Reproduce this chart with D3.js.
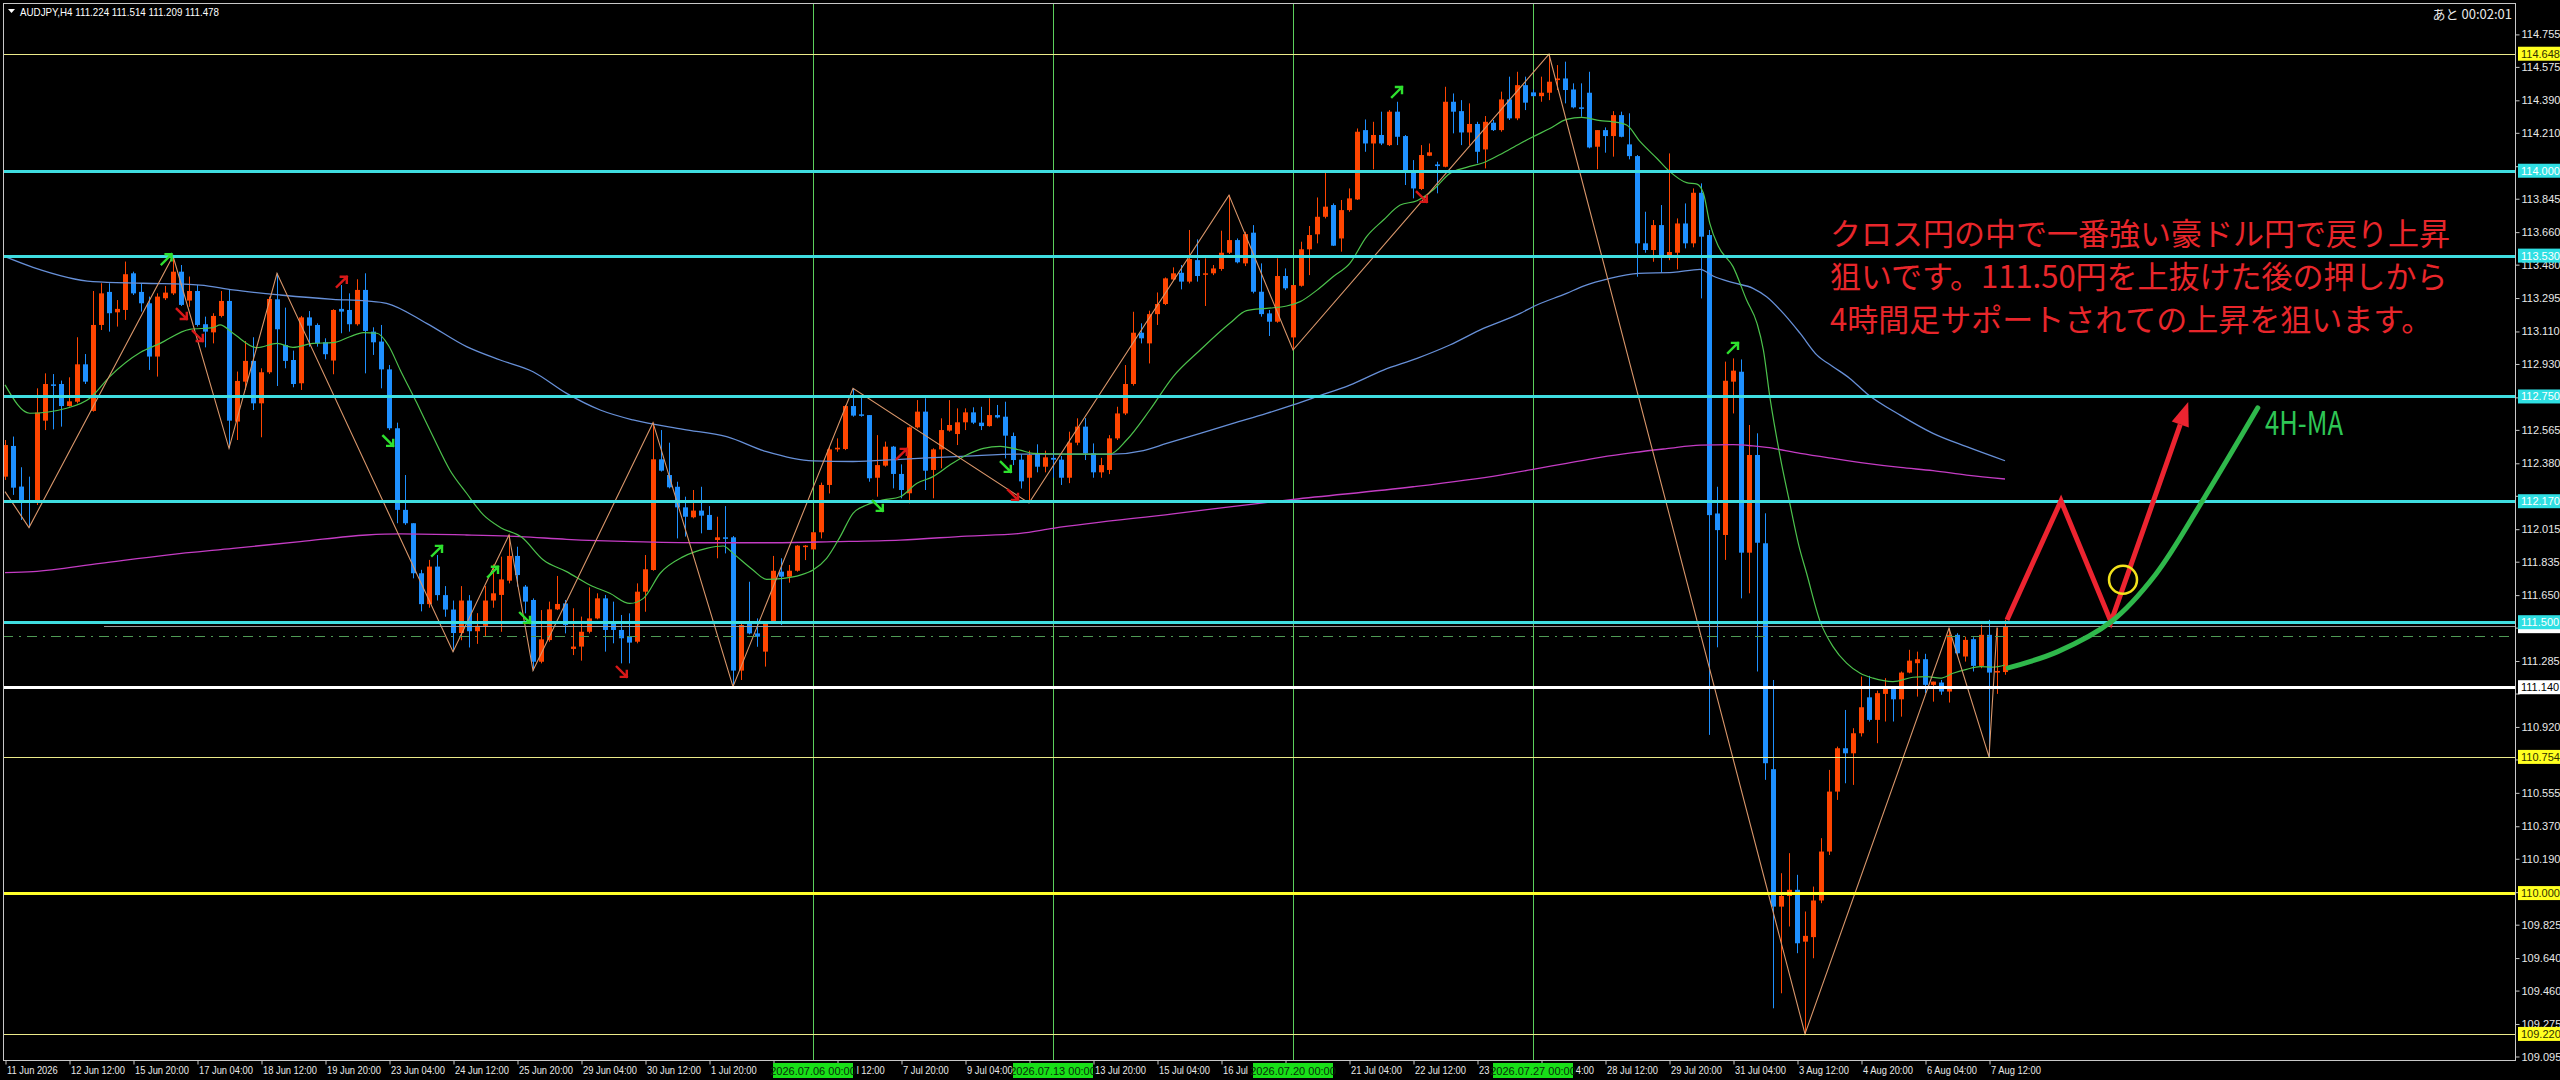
<!DOCTYPE html>
<html>
<head>
<meta charset="utf-8">
<script src="https://cdn.jsdelivr.net/npm/d3@7"></script>
<style>
  html, body { margin: 0; padding: 0; background: #000; }
  svg { display: block; }
</style>
</head>
<body>
<div id="chart"></div>
<script>
// AUDJPY H4 bars, 11 Jun 04:00 .. 7 Aug 20:00 (index 0..250)
var opens = [
  112.306,112.476,112.251,112.173,112.162,112.616,112.817,112.819,112.697,112.721,
  112.928,112.670,113.146,113.329,113.216,113.229,113.432,113.329,113.266,112.971,
  113.294,113.321,113.441,113.281,113.334,113.150,113.105,113.196,113.279,112.611,
  112.832,112.947,112.712,112.884,113.288,113.035,112.952,112.823,113.188,113.146,
  113.050,112.949,113.235,113.229,113.150,113.340,113.109,113.054,112.900,112.574,
  112.122,112.048,111.771,111.600,111.808,111.650,111.570,111.440,111.620,111.450,
  111.480,111.620,111.651,111.730,111.867,111.697,111.623,111.281,111.401,111.571,
  111.604,111.352,111.365,111.447,111.521,111.632,111.503,111.457,111.420,111.392,
  111.669,111.789,112.402,112.315,112.250,112.136,112.081,112.118,112.094,111.955,
  111.970,111.970,111.232,111.490,111.438,111.337,111.503,111.780,111.752,111.785,
  111.918,111.903,111.998,112.260,112.457,112.459,112.697,112.651,112.647,112.300,
  112.367,112.472,112.321,112.214,112.579,112.666,112.343,112.457,112.561,112.542,
  112.607,112.662,112.605,112.586,112.647,112.638,112.531,112.400,112.300,112.435,
  112.361,112.410,112.400,112.300,112.494,112.583,112.435,112.330,112.343,112.518,
  112.656,112.819,113.103,113.044,113.206,113.262,113.398,113.435,113.386,113.505,
  113.428,113.432,113.456,113.546,113.616,113.487,113.657,113.330,113.210,113.164,
  113.417,113.077,113.363,113.565,113.648,113.745,113.810,113.625,113.782,113.841,
  114.225,114.151,114.198,114.142,114.327,114.192,114.004,113.899,114.083,114.035,
  114.022,114.382,114.330,114.212,114.259,114.118,114.266,114.225,114.395,114.290,
  114.474,114.434,114.413,114.432,114.502,114.511,114.450,114.351,114.432,114.133,
  114.225,114.192,114.308,114.146,114.081,113.598,113.561,113.699,113.528,113.546,
  113.708,113.598,113.878,113.644,112.102,111.983,112.832,112.887,111.885,112.426,
  111.937,110.686,109.925,109.984,110.018,109.731,109.756,109.959,110.230,110.562,
  110.802,110.774,110.885,111.084,110.959,111.103,111.134,111.073,111.221,111.273,
  111.295,111.153,111.166,111.116,111.430,111.310,111.406,111.258,111.430,111.221,
  111.224
];
var highs = [
  112.509,112.528,112.358,112.306,112.795,112.878,112.874,112.838,112.856,113.078,
  112.985,113.334,113.377,113.377,113.284,113.497,113.441,113.377,113.303,113.321,
  113.362,113.528,113.478,113.414,113.367,113.192,113.211,113.334,113.340,112.888,
  113.057,113.078,112.906,113.303,113.432,113.242,113.004,113.196,113.223,113.155,
  113.072,113.233,113.367,113.321,113.399,113.432,113.133,113.146,112.924,112.605,
  112.315,112.048,111.790,111.845,111.872,111.700,111.620,111.700,111.650,111.550,
  111.700,111.820,111.863,111.983,111.918,111.706,111.632,111.567,111.614,111.756,
  111.623,111.577,111.531,111.693,111.660,111.651,111.614,111.540,111.549,111.715,
  111.872,112.605,112.564,112.494,112.278,112.195,112.232,112.250,112.143,112.084,
  112.143,111.977,111.503,111.724,111.521,111.503,111.867,111.854,111.817,111.927,
  111.927,112.001,112.273,112.472,112.518,112.703,112.795,112.758,112.647,112.536,
  112.500,112.476,112.374,112.583,112.730,112.740,112.463,112.629,112.730,112.684,
  112.684,112.690,112.693,112.740,112.703,112.721,112.550,112.430,112.450,112.485,
  112.450,112.440,112.420,112.555,112.629,112.630,112.490,112.410,112.536,112.693,
  112.924,113.219,113.155,113.225,113.326,113.409,113.465,113.478,113.672,113.620,
  113.515,113.478,113.668,113.865,113.625,113.662,113.699,113.487,113.229,113.515,
  113.459,113.367,113.607,113.694,113.852,113.995,113.819,113.838,113.902,114.234,
  114.284,114.271,114.327,114.336,114.382,114.198,114.059,114.142,114.151,114.050,
  114.465,114.428,114.391,114.373,114.271,114.303,114.281,114.438,114.521,114.548,
  114.521,114.450,114.521,114.645,114.585,114.604,114.484,114.484,114.548,114.225,
  114.240,114.330,114.327,114.318,114.087,113.773,113.727,113.810,114.096,113.736,
  113.819,113.902,113.930,113.672,112.250,112.943,112.961,112.955,112.592,112.546,
  112.103,111.180,110.110,110.221,110.101,109.898,110.036,110.304,110.682,110.811,
  111.014,110.913,111.199,111.203,111.121,111.190,111.143,111.227,111.347,111.337,
  111.325,111.171,111.180,111.466,111.439,111.420,111.417,111.485,111.513,111.470,
  111.514
];
var lows = [
  112.288,112.205,112.066,112.024,112.149,112.564,112.568,112.583,112.694,112.712,
  112.819,112.666,113.118,113.109,113.137,113.174,113.312,113.220,112.897,112.860,
  113.284,113.312,113.251,113.247,113.137,113.022,113.044,113.188,112.463,112.509,
  112.786,112.675,112.524,112.875,112.808,112.906,112.801,112.786,113.026,113.026,
  112.956,112.873,113.100,113.109,113.142,112.878,112.980,112.795,112.564,112.048,
  112.039,111.743,111.560,111.580,111.620,111.530,111.337,111.400,111.360,111.380,
  111.420,111.580,111.447,111.715,111.697,111.549,111.232,111.272,111.392,111.567,
  111.438,111.318,111.287,111.438,111.516,111.337,111.383,111.272,111.272,111.383,
  111.558,111.785,112.334,112.241,111.964,111.974,112.075,111.992,112.011,111.854,
  111.881,111.143,111.180,111.433,111.364,111.254,111.497,111.484,111.719,111.780,
  111.844,111.900,111.964,112.213,112.444,112.453,112.638,112.638,112.278,112.195,
  112.361,112.241,112.186,112.158,112.573,112.232,112.186,112.352,112.555,112.481,
  112.564,112.597,112.564,112.583,112.629,112.407,112.370,112.240,112.160,112.330,
  112.330,112.300,112.260,112.270,112.480,112.398,112.300,112.300,112.320,112.509,
  112.647,112.810,113.044,112.933,113.146,113.256,113.391,113.343,113.376,113.386,
  113.251,113.422,113.446,113.539,113.487,113.472,113.321,113.192,113.085,113.158,
  113.339,113.007,113.358,113.422,113.598,113.736,113.583,113.552,113.773,113.838,
  114.105,114.008,114.142,114.137,114.142,113.921,113.847,113.893,114.081,113.875,
  114.019,114.207,114.142,114.142,114.041,114.013,114.220,114.216,114.281,114.280,
  114.336,114.410,114.382,114.391,114.447,114.373,114.345,114.299,114.124,114.008,
  114.100,114.078,114.185,114.063,113.413,113.546,113.496,113.435,113.505,113.454,
  113.570,113.576,113.293,110.876,111.361,111.845,112.656,111.632,111.660,111.227,
  110.627,109.362,109.445,109.815,109.667,109.220,109.639,109.944,110.211,110.516,
  110.608,110.599,110.867,110.950,110.830,110.950,110.950,110.977,111.217,111.088,
  111.107,111.060,111.098,111.055,111.313,111.282,111.227,111.245,110.754,111.103,
  111.209
];
var closes = [
  112.481,112.245,112.173,112.162,112.661,112.819,112.814,112.697,112.723,112.928,
  112.832,113.146,113.321,113.211,113.235,113.427,113.321,113.266,112.971,113.303,
  113.325,113.441,113.257,113.334,113.146,113.109,113.196,113.279,112.616,112.836,
  112.947,112.712,112.884,113.290,113.122,112.947,112.819,113.188,113.142,113.044,
  112.984,113.229,113.220,113.150,113.340,113.113,113.050,112.900,112.574,112.122,
  112.048,111.771,111.600,111.808,111.650,111.570,111.440,111.620,111.450,111.480,
  111.620,111.660,111.737,111.867,111.761,111.614,111.281,111.405,111.571,111.601,
  111.484,111.365,111.447,111.521,111.632,111.457,111.457,111.411,111.387,111.669,
  111.793,112.402,112.339,112.247,112.136,112.084,112.118,112.090,112.011,111.970,
  111.962,111.232,111.484,111.438,111.420,111.490,111.785,111.752,111.785,111.924,
  111.924,111.998,112.260,112.457,112.466,112.697,112.644,112.644,112.297,112.370,
  112.472,112.321,112.232,112.579,112.666,112.339,112.457,112.564,112.592,112.607,
  112.662,112.605,112.586,112.647,112.634,112.533,112.398,112.280,112.426,112.361,
  112.413,112.400,112.300,112.494,112.583,112.435,112.330,112.370,112.518,112.656,
  112.819,113.103,113.072,113.206,113.262,113.404,113.432,113.386,113.511,113.417,
  113.432,113.459,113.546,113.616,113.493,113.649,113.330,113.206,113.164,113.417,
  113.349,113.367,113.565,113.644,113.745,113.801,113.585,113.782,113.847,114.216,
  114.151,114.198,114.151,114.327,114.188,114.004,113.902,114.087,114.102,114.026,
  114.382,114.327,114.212,114.259,114.105,114.271,114.225,114.395,114.290,114.474,
  114.377,114.413,114.432,114.493,114.511,114.447,114.351,114.345,114.129,114.225,
  114.192,114.308,114.188,114.081,113.598,113.561,113.699,113.528,113.550,113.708,
  113.598,113.878,113.635,112.093,112.010,112.837,112.893,111.885,112.426,111.940,
  110.719,109.925,109.984,110.018,109.722,109.763,109.959,110.230,110.562,110.802,
  110.774,110.885,111.029,110.959,111.107,111.134,111.073,111.221,111.287,111.295,
  111.153,111.171,111.116,111.430,111.328,111.402,111.258,111.430,111.221,111.230,
  111.478
];

// moving averages as [bar, price]
var maFast = [
  [0,112.814],[3.1,112.657],[7.7,112.685],[10.6,112.740],[13.1,112.860],[16.9,112.993],[19.4,113.044],
  [23.1,113.122],[26,113.131],[26.9,113.146],[28.5,113.100],[31.5,113.020],[34,113.044],[36,113.022],
  [38.5,113.044],[41,113.048],[43.1,113.081],[44.8,113.104],[46.5,113.100],[47.9,113.035],[49.4,112.897],
  [51.5,112.712],[53.5,112.528],[55.6,112.343],[57.7,112.214],[59.8,112.094],[61.9,112.025],[64.6,111.970],
  [67.3,111.844],[70.2,111.780],[73.1,111.706],[75.6,111.660],[78.1,111.604],[79.8,111.632],[81.9,111.771],
  [84.8,111.863],[87.7,111.909],[89.8,111.922],[91,111.881],[93.5,111.789],[95.2,111.737],[97.3,111.743],
  [99.4,111.761],[101,111.789],[102.7,111.854],[104.4,111.974],[106,112.103],[107.7,112.149],[109.8,112.177],
  [111.9,112.195],[114,112.269],[116,112.306],[118.1,112.370],[120.2,112.426],[122.3,112.463],[124.4,112.474],
  [126.9,112.453],[128.5,112.435],[132.7,112.431],[138.1,112.431],[140.2,112.509],[143.1,112.675],[146,112.859],
  [149.4,113.007],[153.1,113.155],[155.2,113.225],[157.7,113.238],[160.2,113.251],[161.9,113.275],[164,113.339],
  [166,113.413],[168.1,113.487],[170.2,113.635],[172.3,113.727],[174.4,113.810],[176.5,113.834],[178.5,113.893],
  [180.6,113.985],[182.7,114.019],[184.8,114.044],[186.9,114.090],[189.4,114.151],[191,114.188],[193.1,114.234],
  [195.2,114.284],[197.1,114.295],[199.4,114.277],[201,114.271],[202.7,114.253],[204.4,114.161],[206.5,114.068],
  [208.1,113.995],[210.2,113.934],[211.5,113.926],[212.3,113.875],[213.1,113.708],[214.2,113.579],[216,113.469],
  [217.7,113.284],[219,113.155],[219.8,113.007],[220.6,112.749],[221.9,112.416],[223.1,112.158],[224.2,111.930],
  [225.2,111.771],[226.9,111.503],[228.5,111.365],[230.2,111.273],[231.9,111.217],[233.5,111.190],[236,111.171],
  [238.5,111.195],[240.2,111.199],[241.9,111.190],[243.5,111.217],[245.2,111.239],[246.9,111.254],[248.5,111.251],
  [250,111.263]
];
var maSlow = [
  [0,113.524],[3.5,113.465],[11,113.386],[17.3,113.377],[24.4,113.367],[28.5,113.340],[34.4,113.312],
  [41,113.288],[45.2,113.279],[47.7,113.266],[52.7,113.155],[57.7,113.026],[61.9,112.952],[66,112.887],
  [70.2,112.767],[74.4,112.675],[78.5,112.620],[84.8,112.568],[90.2,112.527],[95.2,112.444],[101,112.393],
  [106,112.390],[111.9,112.402],[120.2,112.420],[126.9,112.431],[133,112.431],[138.5,112.431],[142.3,112.450],
  [145.2,112.490],[149.4,112.546],[153.5,112.601],[157.7,112.656],[161,112.703],[164,112.749],[168.1,112.813],
  [172.3,112.896],[176.5,112.961],[180.6,113.035],[184.8,113.127],[189.4,113.210],[191,113.247],[195.2,113.321],
  [197.3,113.361],[200.6,113.404],[204.2,113.432],[208.5,113.437],[211.9,113.454],[213.5,113.417],[216,113.380],
  [218.5,113.349],[220.2,113.302],[222.3,113.210],[224.4,113.099],[226.5,112.979],[228.5,112.915],[230.6,112.850],
  [232.7,112.767],[236.9,112.647],[241,112.546],[245.2,112.472],[250,112.394]
];
var maLong = [
  [0,111.775],[3.5,111.780],[11.9,111.826],[20.2,111.872],[28.5,111.909],[36.9,111.946],[45.2,111.983],
  [49.4,111.989],[57.7,111.983],[64.4,111.974],[70.2,111.959],[78.5,111.946],[86.9,111.940],[95.2,111.940],
  [103.5,111.946],[111.9,111.955],[120.2,111.977],[126.9,111.992],[131,112.020],[146,112.100],[161,112.180],
  [176,112.250],[186.9,112.315],[191,112.346],[195.2,112.380],[199.4,112.413],[203.5,112.439],[207.7,112.461],
  [211.9,112.481],[216,112.483],[218.5,112.476],[220.2,112.468],[224.4,112.435],[228.5,112.407],[232.7,112.380],
  [236.9,112.357],[241,112.339],[245.2,112.315],[250,112.293]
];
var zigzag = [
  [0,112.223],[3,112.024],[21,113.528],[28,112.463],[34,113.432],[56,111.337],[63,111.983],[66,111.232],
  [81,112.605],[91,111.143],[106,112.795],[128,112.160],[153,113.865],[161,113.007],[193,114.645],
  [225,109.220],[243,111.466],[248,110.754],[249,111.470]
];
// signal arrows: gu = green up, gd = green down, ru = red up, rd = red down
var signals = [
  [20.2,113.51,"gu"],[22.1,113.207,"rd"],[24.1,113.085,"rd"],[42.1,113.385,"ru"],[47.9,112.504,"gd"],
  [54,111.895,"gu"],[61,111.779,"gu"],[65,111.524,"gd"],[77.1,111.225,"rd"],[109.1,112.144,"gd"],
  [112.1,112.432,"ru"],[125.1,112.360,"gd"],[126,112.205,"rd"],[174,114.436,"gu"],[177.1,113.855,"rd"],
  [216,113.019,"gu"]
];

// horizontal lines
var cyanLevels = [114.000, 113.530, 112.750, 112.170, 111.500];
var thinYellowLevels = [114.648, 110.754, 109.220];
var boldYellowLevel = 110.000;
var whiteLevel = 111.140;
var bidPrice = 111.478;
var dashLevel = 111.422;

// vertical week lines
var weekBars = [101, 131, 161, 191];
var weekLabels = ["2026.07.06 00:00", "2026.07.13 00:00", "2026.07.20 00:00", "2026.07.27 00:00"];

// axes
var priceTicks = [114.755,114.575,114.390,114.210,114.025,113.845,113.660,113.480,113.295,113.110,
  112.930,112.745,112.565,112.380,112.200,112.015,111.835,111.650,111.470,111.285,111.105,110.920,
  110.740,110.555,110.370,110.190,110.005,109.825,109.640,109.460,109.275,109.095];
var timeTickBars = [0,8,16,24,32,40,48,56,64,72,80,88,96,104,112,120,128,136,144,152,160,168,176,184,
  192,200,208,216,224,232,240,248];
var timeTickLabels = ["11 Jun 2026","12 Jun 12:00","15 Jun 20:00","17 Jun 04:00","18 Jun 12:00",
  "19 Jun 20:00","23 Jun 04:00","24 Jun 12:00","25 Jun 20:00","29 Jun 04:00","30 Jun 12:00",
  "1 Jul 20:00","3 Jul 04:00","6 Jul 12:00","7 Jul 20:00","9 Jul 04:00","10 Jul 12:00","13 Jul 20:00",
  "15 Jul 04:00","16 Jul 12:00","17 Jul 20:00","21 Jul 04:00","22 Jul 12:00","23 Jul 20:00",
  "27 Jul 04:00","28 Jul 12:00","29 Jul 20:00","31 Jul 04:00","3 Aug 12:00","4 Aug 20:00",
  "6 Aug 04:00","7 Aug 12:00"];

// hand-drawn plan
var planRed = [[250.25,111.513],[257,112.172],[263.25,111.502],[272.9,112.72]];
var planGreen = [[250.4,111.247],[256.6,111.337],[263.25,111.502],[268.8,111.763],[274.9,112.188],[281.6,112.687]];
var planCircle = [264.75, 111.735];
var noteLines = ["クロス円の中で一番強い豪ドル円で戻り上昇",
  "狙いです。111.50円を上抜けた後の押しから",
  "4時間足サポートされての上昇を狙います。"];
var maNote = "4H-MA";

var svgWidth = 2560;
var svgHeight = 1080;
var plot = {left: 3, top: 3, right: 2515, bottom: 1060};
var uiFont = "'Liberation Sans', Arial, sans-serif";
var tagHalfWidth = 40;
var squeeze = 0.85;

var svg = d3.select("#chart")
  .append("svg")
  .attr("width", svgWidth)
  .attr("height", svgHeight);

svg.append("rect")
  .attr("width", svgWidth)
  .attr("height", svgHeight)
  .attr("fill", "#000");

var x = d3.scaleLinear().domain([0, 250]).range([5, 2005]);
var y = d3.scaleLinear().domain([109.095, 114.755]).range([1056.5, 34.4]);

svg.append("clipPath").attr("id", "plotClip")
  .append("rect")
  .attr("x", plot.left).attr("y", plot.top)
  .attr("width", plot.right - plot.left).attr("height", plot.bottom - plot.top);

var chartGroup = svg.append("g").attr("clip-path", "url(#plotClip)");

// week separators
chartGroup.selectAll(".week")
  .data(weekBars)
  .enter()
  .append("line")
  .attr("x1", d => Math.round(x(d)) + 0.5)
  .attr("x2", d => Math.round(x(d)) + 0.5)
  .attr("y1", plot.top)
  .attr("y2", plot.bottom)
  .attr("stroke", "#5ccf5c")
  .attr("stroke-width", 1);

// candles
var upColor = "#ff4500";
var downColor = "#1e90ff";
var bars = d3.range(opens.length);

var candles = chartGroup.append("g").selectAll("g")
  .data(bars)
  .enter()
  .append("g");

candles.append("line")
  .attr("x1", i => Math.round(x(i)) + 0.5)
  .attr("x2", i => Math.round(x(i)) + 0.5)
  .attr("y1", i => y(Math.max(highs[i], opens[i], closes[i])))
  .attr("y2", i => y(Math.min(lows[i], opens[i], closes[i])))
  .attr("stroke", i => closes[i] >= opens[i] ? upColor : downColor)
  .attr("stroke-width", 1);

candles.append("rect")
  .attr("x", i => Math.round(x(i)) - 2)
  .attr("width", 5)
  .attr("y", i => y(Math.max(opens[i], closes[i])))
  .attr("height", i => Math.max(1.5, y(Math.min(opens[i], closes[i])) - y(Math.max(opens[i], closes[i]))))
  .attr("fill", i => closes[i] >= opens[i] ? upColor : downColor);

// indicator lines
var maLine = d3.line()
  .x(d => x(d[0]))
  .y(d => y(d[1]))
  .curve(d3.curveMonotoneX);

chartGroup.append("path").datum(maLong)
  .attr("d", maLine).attr("fill", "none")
  .attr("stroke", "#c43cc4").attr("stroke-width", 1.3);

chartGroup.append("path").datum(maSlow)
  .attr("d", maLine).attr("fill", "none")
  .attr("stroke", "#6790d8").attr("stroke-width", 1.3);

chartGroup.append("path").datum(maFast)
  .attr("d", maLine).attr("fill", "none")
  .attr("stroke", "#4cc24c").attr("stroke-width", 1.2);

chartGroup.append("path").datum(zigzag)
  .attr("d", d3.line().x(d => x(d[0])).y(d => y(d[1])))
  .attr("fill", "none")
  .attr("stroke", "#d9966a").attr("stroke-width", 1.1);

// horizontal levels
function hLine(price, color, width, x1, dash) {
  var yy = Math.round(y(price)) + (width % 2 ? 0.5 : 0);
  var ln = chartGroup.append("line")
    .attr("x1", x1 == null ? plot.left : x1)
    .attr("x2", plot.right)
    .attr("y1", yy).attr("y2", yy)
    .attr("stroke", color)
    .attr("stroke-width", width);
  if (dash) ln.attr("stroke-dasharray", dash);
}

thinYellowLevels.forEach(p => hLine(p, "#ecea8a", 1));
hLine(boldYellowLevel, "#ffff2a", 3);
hLine(whiteLevel, "#ffffff", 3);
hLine(dashLevel, "#4f9a55", 1, null, "10,6,2,6");
hLine(bidPrice, "#9a9a9a", 1, 104);
cyanLevels.forEach(p => hLine(p, "#3fdde0", 3));

// signal arrows
var arrowPaths = {
  u: "M-5,5 L5,-5 M-1,-5 L5,-5 L5,1",
  d: "M-5,-5 L5,5 M-1,5 L5,5 L5,-1"
};
chartGroup.selectAll(".sig")
  .data(signals)
  .enter()
  .append("path")
  .attr("transform", d => `translate(${x(d[0])},${y(d[1])})`)
  .attr("d", d => arrowPaths[d[2][1]])
  .attr("fill", "none")
  .attr("stroke", d => d[2][0] === "g" ? "#2ee02e" : "#d81818")
  .attr("stroke-width", 2.4)
  .attr("stroke-linecap", "square");

// plan drawing
var planPts = planRed.map(d => [x(d[0]), y(d[1])]);
var tip = planPts[planPts.length - 1];
var prev = planPts[planPts.length - 2];
var ang = Math.atan2(tip[1] - prev[1], tip[0] - prev[0]);
var headLen = 24, headHalf = 9;
var base = [tip[0] - headLen * Math.cos(ang), tip[1] - headLen * Math.sin(ang)];
var redShaft = planPts.slice(0, -1).concat([base]);

chartGroup.append("path")
  .attr("d", d3.line()(redShaft))
  .attr("fill", "none")
  .attr("stroke", "#ec2430")
  .attr("stroke-width", 5)
  .attr("stroke-linejoin", "miter");

chartGroup.append("path")
  .attr("d", d3.line()([
    tip,
    [base[0] + headHalf * Math.sin(ang), base[1] - headHalf * Math.cos(ang)],
    [base[0] - headHalf * Math.sin(ang), base[1] + headHalf * Math.cos(ang)]
  ]) + "Z")
  .attr("fill", "#ec2430");

chartGroup.append("path").datum(planGreen)
  .attr("d", d3.line().x(d => x(d[0])).y(d => y(d[1])).curve(d3.curveCatmullRom))
  .attr("fill", "none")
  .attr("stroke", "#2fb84b")
  .attr("stroke-width", 5)
  .attr("stroke-linecap", "round");

chartGroup.append("circle")
  .attr("cx", x(planCircle[0]))
  .attr("cy", y(planCircle[1]))
  .attr("r", 14)
  .attr("fill", "none")
  .attr("stroke", "#f2e21c")
  .attr("stroke-width", 2.5);

chartGroup.selectAll(".note")
  .data(noteLines)
  .enter()
  .append("text")
  .attr("x", 1830)
  .attr("y", (d, i) => 245 + i * 43)
  .attr("font-family", "'Noto Sans CJK JP', sans-serif")
  .attr("font-size", 31)
  .attr("fill", "#e8262b")
  .text(d => d);

chartGroup.append("text")
  .attr("x", 2265)
  .attr("y", 435)
  .attr("font-family", "'Noto Sans CJK JP', sans-serif")
  .attr("font-size", 33)
  .attr("textLength", 78)
  .attr("lengthAdjust", "spacingAndGlyphs")
  .attr("fill", "#2ec655")
  .text(maNote);

// frame
svg.append("rect")
  .attr("x", plot.left + 0.5).attr("y", plot.top + 0.5)
  .attr("width", plot.right - plot.left).attr("height", plot.bottom - plot.top)
  .attr("fill", "none")
  .attr("stroke", "#c8c8c8")
  .attr("stroke-width", 1);

// price tags on the axis (built first so covered tick labels can be skipped)
var tags = [{p: bidPrice, bg: "#ffffff", fg: "#000"}]
  .concat(thinYellowLevels.map(p => ({p: p, bg: "#ffff20", fg: "#303000"})))
  .concat([{p: boldYellowLevel, bg: "#ffff20", fg: "#303000"}])
  .concat([{p: whiteLevel, bg: "#ffffff", fg: "#000"}])
  .concat(cyanLevels.map(p => ({p: p, bg: "#2fdfe3", fg: "#ffffff"})));

// price axis
var rightAxis = d3.axisRight(y)
  .tickValues(priceTicks)
  .tickFormat(d3.format(".3f"))
  .tickSize(4)
  .tickPadding(2);

var priceAxis = svg.append("g")
  .attr("transform", `translate(${plot.right + 0.5},0)`)
  .call(rightAxis)
  .call(g => g.select(".domain").remove())
  .call(g => g.selectAll("line").attr("stroke", "#c8c8c8"))
  .call(g => g.selectAll("text")
    .attr("fill", "#e8e8e8")
    .attr("font-size", 11)
    .attr("font-family", uiFont));

// tick labels sitting behind a tag are covered on the terminal
priceAxis.selectAll(".tick").each(function(d) {
  var covered = tags.some(t => Math.abs(y(t.p) - y(d)) < 7);
  if (covered) d3.select(this).select("text").remove();
});

// time axis, labels condensed like the terminal font
var bottomAxis = d3.axisBottom(x)
  .tickValues(timeTickBars)
  .tickFormat((d, i) => timeTickLabels[i])
  .tickSize(4);

var timeAxis = svg.append("g")
  .attr("transform", `translate(0.5,${plot.bottom + 0.5})`)
  .call(bottomAxis)
  .call(g => g.select(".domain").remove())
  .call(g => g.selectAll("line").attr("stroke", "#c8c8c8"))
  .call(g => g.selectAll("text")
    .attr("fill", "#e8e8e8")
    .attr("font-size", 11)
    .attr("font-family", uiFont)
    .attr("text-anchor", "start")
    .attr("x", 1.2)
    .attr("y", 6)
    .attr("transform", `scale(${squeeze},1)`));

// week tags cover part of some date labels: keep only the part left in view
timeAxis.selectAll(".tick").each(function(d) {
  var t = d3.select(this).select("text");
  var node = t.node();
  var label = node.textContent;
  var start = x(d) + 1.2 * squeeze;
  var widthTo = k => node.getSubStringLength(0, k) * squeeze;
  var full = widthTo(label.length);
  weekBars.forEach(b => {
    var bL = x(b) - tagHalfWidth, bR = x(b) + tagHalfWidth;
    if (start + full <= bL || start >= bR) return;
    if (start >= bL && start + full <= bR) { label = ""; return; }
    if (start < bL) {
      var n = label.length;
      while (n > 0 && start + widthTo(n) > bL - 1) n--;
      label = label.slice(0, n);
    } else {
      var k = 0;
      while (k < label.length && start + widthTo(k) < bR + 1) k++;
      t.attr("x", 1.2 + node.getSubStringLength(0, k));
      label = label.slice(k);
    }
  });
  if (label === "") t.remove();
  else t.text(label);
});

// week labels on time axis
var weekTag = svg.selectAll(".weekTag")
  .data(weekBars)
  .enter()
  .append("g")
  .attr("transform", d => `translate(${Math.round(x(d))},${plot.bottom + 3})`);
weekTag.append("rect")
  .attr("x", -tagHalfWidth).attr("y", 0)
  .attr("width", tagHalfWidth * 2).attr("height", 15)
  .attr("fill", "#18e018");
weekTag.append("text")
  .attr("x", 0).attr("y", 11.5)
  .attr("text-anchor", "middle")
  .attr("font-size", 11)
  .attr("font-family", uiFont)
  .attr("fill", "#0a2a0a")
  .text((d, i) => weekLabels[i]);

var tagG = svg.selectAll(".tag")
  .data(tags)
  .enter()
  .append("g")
  .attr("transform", d => `translate(${plot.right + 3},${y(d.p)})`);
tagG.append("rect")
  .attr("x", 0).attr("y", -7)
  .attr("width", 42).attr("height", 14)
  .attr("fill", d => d.bg);
tagG.append("text")
  .attr("x", 3).attr("y", 4)
  .attr("font-size", 11)
  .attr("font-family", uiFont)
  .attr("fill", d => d.fg)
  .text(d => d.p === bidPrice ? "" : d3.format(".3f")(d.p));

// header
var last = opens.length - 1;
svg.append("path")
  .attr("d", "M8,9 L15,9 L11.5,13 Z")
  .attr("fill", "#ffffff");
svg.append("text")
  .attr("x", 20).attr("y", 16)
  .attr("font-size", 11)
  .attr("textLength", 199)
  .attr("lengthAdjust", "spacingAndGlyphs")
  .attr("font-family", uiFont)
  .attr("fill", "#ffffff")
  .text(`AUDJPY,H4  ${d3.format(".3f")(opens[last])} ${d3.format(".3f")(highs[last])} ${d3.format(".3f")(lows[last])} ${d3.format(".3f")(closes[last])}`);

svg.append("text")
  .attr("x", 2512).attr("y", 19)
  .attr("text-anchor", "end")
  .attr("font-size", 13)
  .attr("font-family", "'Noto Sans CJK JP', sans-serif")
  .attr("fill", "#e8e8e8")
  .text("あと 00:02:01");
</script>
</body>
</html>
